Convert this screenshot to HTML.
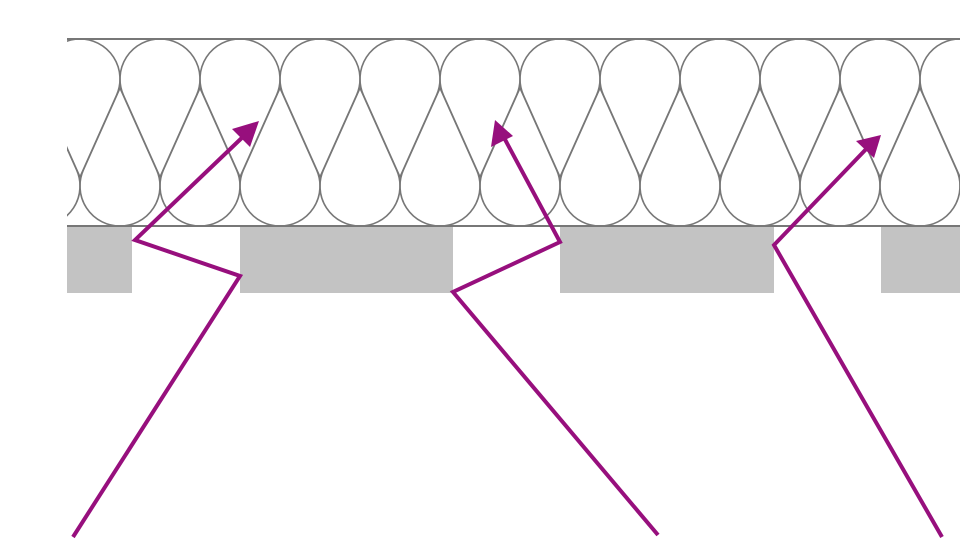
<!DOCTYPE html>
<html><head><meta charset="utf-8"><style>html,body{margin:0;padding:0;background:#fff;}svg{display:block}</style></head>
<body>
<svg width="960" height="560" viewBox="0 0 960 560" xmlns="http://www.w3.org/2000/svg">
<defs>
<pattern id="ins" patternUnits="userSpaceOnUse" x="0" y="0" width="80" height="560">
<g fill="none" stroke="#777" stroke-width="1.6" stroke-linejoin="round">
<path d="M-36.5,95.3 A40,40 0 1 1 36.5,95.3 L0,177 Z"/>
<path d="M43.5,95.3 A40,40 0 1 1 116.5,95.3 L80,177 Z"/>
<path d="M-76.5,169.7 A40,40 0 1 0 -3.5,169.7 L-40,88 Z"/>
<path d="M3.5,169.7 A40,40 0 1 0 76.5,169.7 L40,88 Z"/>
<path d="M83.5,169.7 A40,40 0 1 0 156.5,169.7 L120,88 Z"/>
</g>
</pattern>
</defs>
<rect x="67" y="39" width="893" height="187" fill="url(#ins)"/>
<line x1="67" y1="39" x2="960" y2="39" stroke="#777" stroke-width="2"/>
<line x1="67" y1="226" x2="960" y2="226" stroke="#777" stroke-width="2"/>
<g fill="#c3c3c3">
<rect x="67" y="227" width="65" height="66"/>
<rect x="240" y="227" width="213" height="66"/>
<rect x="560" y="227" width="214" height="66"/>
<rect x="881" y="227" width="79" height="66"/>
</g>
<g fill="none" stroke="#970f7d" stroke-width="4" stroke-linejoin="miter">
<polyline points="73,537 240,276 135,240 248,132"/>
<polyline points="658,535 453,292 560,242 501,132"/>
<polyline points="942,537 774,245 871,144"/>
</g>
<g fill="#970f7d">
<polygon points="259,121 232,129 250,147"/>
<polygon points="495,120 491,147 513,136"/>
<polygon points="881,135 856,141 874,158"/>
</g>
</svg>
</body></html>
